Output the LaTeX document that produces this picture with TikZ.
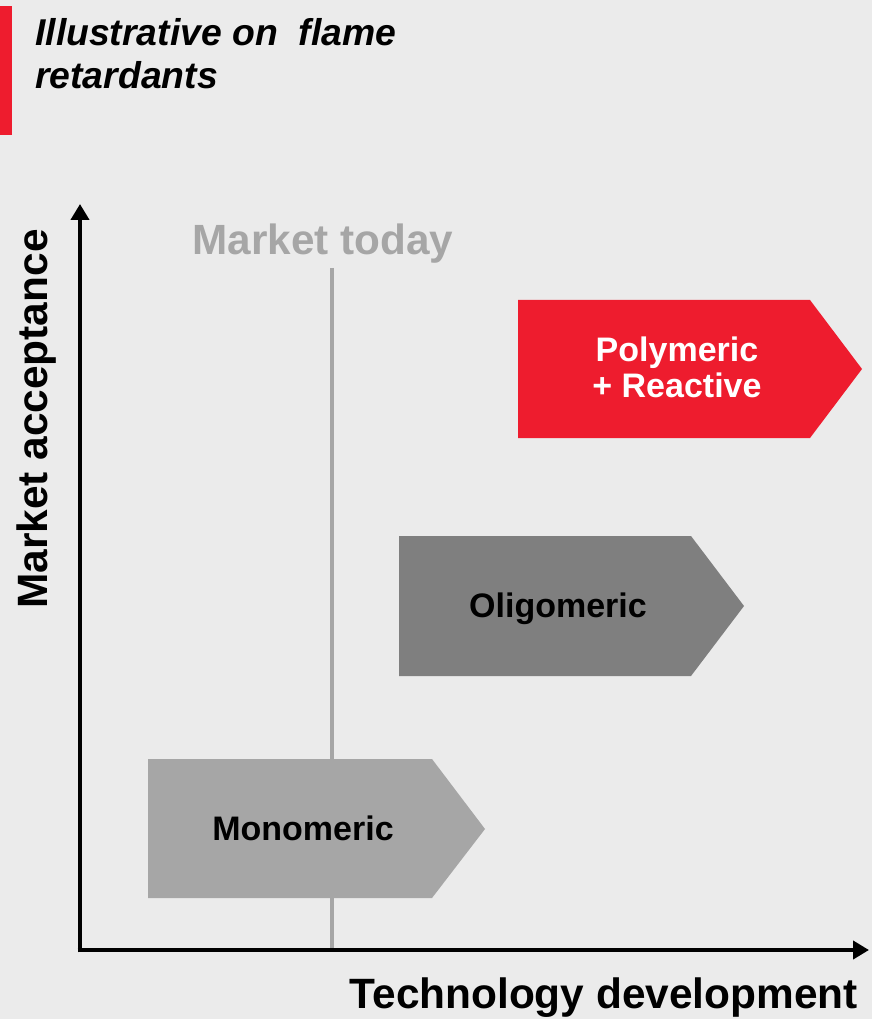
\documentclass[tikz,border=0pt]{standalone}
\usepackage{fontspec}
\setmainfont{Liberation Sans}
\usetikzlibrary{arrows.meta}
\usetikzlibrary{positioning}
\definecolor{pageGray}{RGB}{235,235,235}
\definecolor{flameRed}{RGB}{238,28,46}
\definecolor{todayGray}{RGB}{166,166,166}
\definecolor{stageDark}{RGB}{127,127,127}
\tikzset{
    axis arrow/.style={
        line width=3.6pt,
        -{Triangle[length=12pt,width=13.5pt]},
    },
    today line/.style={
        draw=todayGray,
        line width=3pt,
    },
    stage label/.style={
        inner sep=0,
        font=\fontsize{25.5}{27}\selectfont\bfseries,
    },
    axis label/.style={
        inner sep=0,
        font=\fontsize{31.8}{36}\selectfont\bfseries,
    },
}

\begin{document}
\begin{tikzpicture}[x=0.75pt,y=-0.75pt]

    \fill[pageGray] (0,0) rectangle (872,1019);
    \useasboundingbox (0,0) rectangle (872,1019);

    % header
    \fill[flameRed] (0,6) rectangle (12,135);
    \node[inner sep=0, anchor=north west, align=left,
          font=\fontsize{28}{32.25}\selectfont\bfseries\itshape]
        (title) at (35,18) {Illustrative on \ flame\\retardants};

    % market today marker
    \coordinate (today top) at (332,268);
    \coordinate (today bottom) at (332,950);
    \draw[today line] (today top) -- (today bottom);
    \node[inner sep=0, anchor=base, text=todayGray,
          font=\fontsize{31.7}{36}\selectfont\bfseries]
        (today) at (323,255) {Market today};

    % stages
    \fill[todayGray] (148,759) -- (432,759) -- (485,829) -- (432,898) -- (148,898) -- cycle;
    \node[stage label, anchor=base] (mono) at (303,840) {Monomeric};

    \fill[stageDark] (399,536) -- (691,536) -- (744,606) -- (691,676) -- (399,676) -- cycle;
    \node[stage label, anchor=base] (oligo) at (558,617) {Oligomeric};

    \fill[flameRed] (518,300) -- (810,300) -- (862,369) -- (810,438) -- (518,438) -- cycle;
    \node[stage label, align=center, text=white] (poly) at (677,367.5) {Polymeric\\+ Reactive};

    % axes
    \coordinate (origin) at (80,950);
    \coordinate (y end) at (80,204);
    \coordinate (x end) at (869,950);
    \draw[axis arrow] ([yshift=-1.8pt]origin) -- (y end);
    \draw[axis arrow] ([xshift=-1.8pt]origin) -- (x end);

    \node[axis label, rotate=90, anchor=base] (acceptance) at (47,419) {Market acceptance};
    \node[axis label, anchor=base east] (techdev) at (858,1008) {Technology development};

\end{tikzpicture}
\end{document}
